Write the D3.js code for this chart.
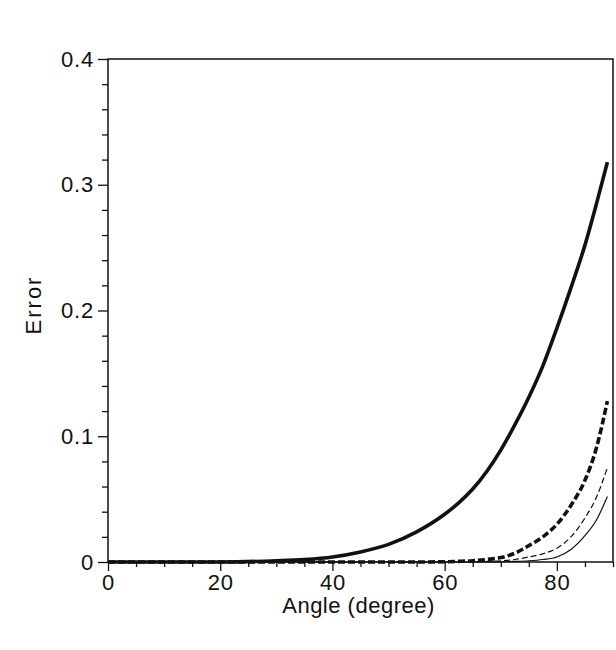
<!DOCTYPE html>
<html>
<head>
<meta charset="utf-8">
<script src="https://cdn.jsdelivr.net/npm/d3@7"></script>
<style>
  body { margin: 0; background: #fff; }
  text { font-family: "Liberation Sans", Arial, sans-serif; fill: #111; }
</style>
</head>
<body>
<script>
"use strict";

// angles where the curves were sampled (degree)
var angles = [0, 10, 20, 30, 35, 40, 45, 50, 55, 60, 62.5, 65, 67.5, 70, 72.5, 75, 77.5, 80, 82.5, 85, 87, 89];

// error values, one array per curve
var thickSolid  = [0, 0, 0, 0.001, 0.002, 0.004, 0.008, 0.014, 0.024, 0.038, 0.047, 0.058, 0.072, 0.089, 0.109, 0.131, 0.156, 0.186, 0.218, 0.252, 0.284, 0.318];
var thickDashed = [0, 0, 0, 0, 0, 0, 0, 0, 0, 0.0002, 0.0005, 0.001, 0.002, 0.0035, 0.007, 0.013, 0.020, 0.030, 0.045, 0.065, 0.090, 0.128];
var thinDashed  = [0, 0, 0, 0, 0, 0, 0, 0, 0, 0, 0, 0.0002, 0.0005, 0.001, 0.002, 0.004, 0.0065, 0.011, 0.020, 0.035, 0.051, 0.075];
var thinSolid   = [0, 0, 0, 0, 0, 0, 0, 0, 0, 0, 0, 0, 0, 0.0002, 0.0005, 0.001, 0.002, 0.004, 0.010, 0.021, 0.033, 0.052];

var xTicks = [0, 20, 40, 60, 80];
var yTicks = [0, 0.1, 0.2, 0.3, 0.4];

var width = 616, height = 650;
var plotLeft = 108, plotRight = 613, plotTop = 59, plotBottom = 562;

var svg = d3.select("body").append("svg")
    .attr("width", width)
    .attr("height", height);

var xScale = d3.scaleLinear().domain([0, 90]).range([plotLeft, plotRight]);
var yScale = d3.scaleLinear().domain([0, 0.4]).range([plotBottom, plotTop]);

// minor ticks
var xMinor = d3.range(0, 91, 5).filter(function(d) { return xTicks.indexOf(d) < 0; });
var yMinor = d3.range(0, 0.401, 0.02).filter(function(d) {
    return Math.abs(d * 10 - Math.round(d * 10)) > 0.01;
});

svg.append("g")
    .attr("transform", "translate(0," + plotBottom + ")")
    .call(d3.axisBottom(xScale).tickValues(xMinor).tickSize(5).tickFormat(""))
    .call(function(g) { g.select(".domain").remove(); });

svg.append("g")
    .attr("transform", "translate(" + plotLeft + ",0)")
    .call(d3.axisLeft(yScale).tickValues(yMinor).tickSize(6).tickFormat(""))
    .call(function(g) { g.select(".domain").remove(); });

// major ticks + labels
var xAxis = svg.append("g")
    .attr("transform", "translate(0," + plotBottom + ")")
    .call(d3.axisBottom(xScale).tickValues(xTicks).tickSize(9).tickPadding(3).tickFormat(d3.format("d")));
xAxis.select(".domain").remove();
xAxis.selectAll("text").style("font-size", "22px").style("letter-spacing", "0.8px").attr("fill", "#111");

var yAxis = svg.append("g")
    .attr("transform", "translate(" + plotLeft + ",0)")
    .call(d3.axisLeft(yScale).tickValues(yTicks).tickSize(10).tickPadding(4)
        .tickFormat(function(d) { return d === 0 ? "0" : d3.format(".1f")(d); }));
yAxis.select(".domain").remove();
yAxis.selectAll("text").style("font-size", "22px").style("letter-spacing", "0.8px").attr("fill", "#111");

svg.selectAll(".tick line").attr("stroke", "#111").attr("stroke-width", 1.3);

// frame
svg.append("rect")
    .attr("x", plotLeft)
    .attr("y", plotTop)
    .attr("width", plotRight - plotLeft)
    .attr("height", plotBottom - plotTop)
    .attr("fill", "none")
    .attr("stroke", "#111")
    .attr("stroke-width", 1.5);

// curves
var line = d3.line()
    .x(function(d) { return xScale(d[0]); })
    .y(function(d) { return yScale(d[1]); })
    .curve(d3.curveMonotoneX);

var series = [
    { values: thinSolid,   width: 1.2, dash: null },
    { values: thinDashed,  width: 1.2, dash: "6,3" },
    { values: thickDashed, width: 3.6, dash: "7,3" },
    { values: thickSolid,  width: 3.6, dash: null }
];

series.forEach(function(s) {
    svg.append("path")
        .datum(angles.map(function(a, i) { return [a, s.values[i]]; }))
        .attr("d", line)
        .attr("fill", "none")
        .attr("stroke", "#111")
        .attr("stroke-width", s.width)
        .attr("stroke-dasharray", s.dash);
});

// axis titles
svg.append("text")
    .attr("x", (plotLeft + plotRight) / 2 - 2)
    .attr("y", 613)
    .attr("text-anchor", "middle")
    .style("font-size", "22px")
    .style("letter-spacing", "0.5px")
    .text("Angle (degree)");

svg.append("text")
    .attr("transform", "translate(41,305) rotate(-90)")
    .attr("text-anchor", "middle")
    .style("font-size", "22px")
    .style("letter-spacing", "2px")
    .text("Error");
</script>
</body>
</html>
